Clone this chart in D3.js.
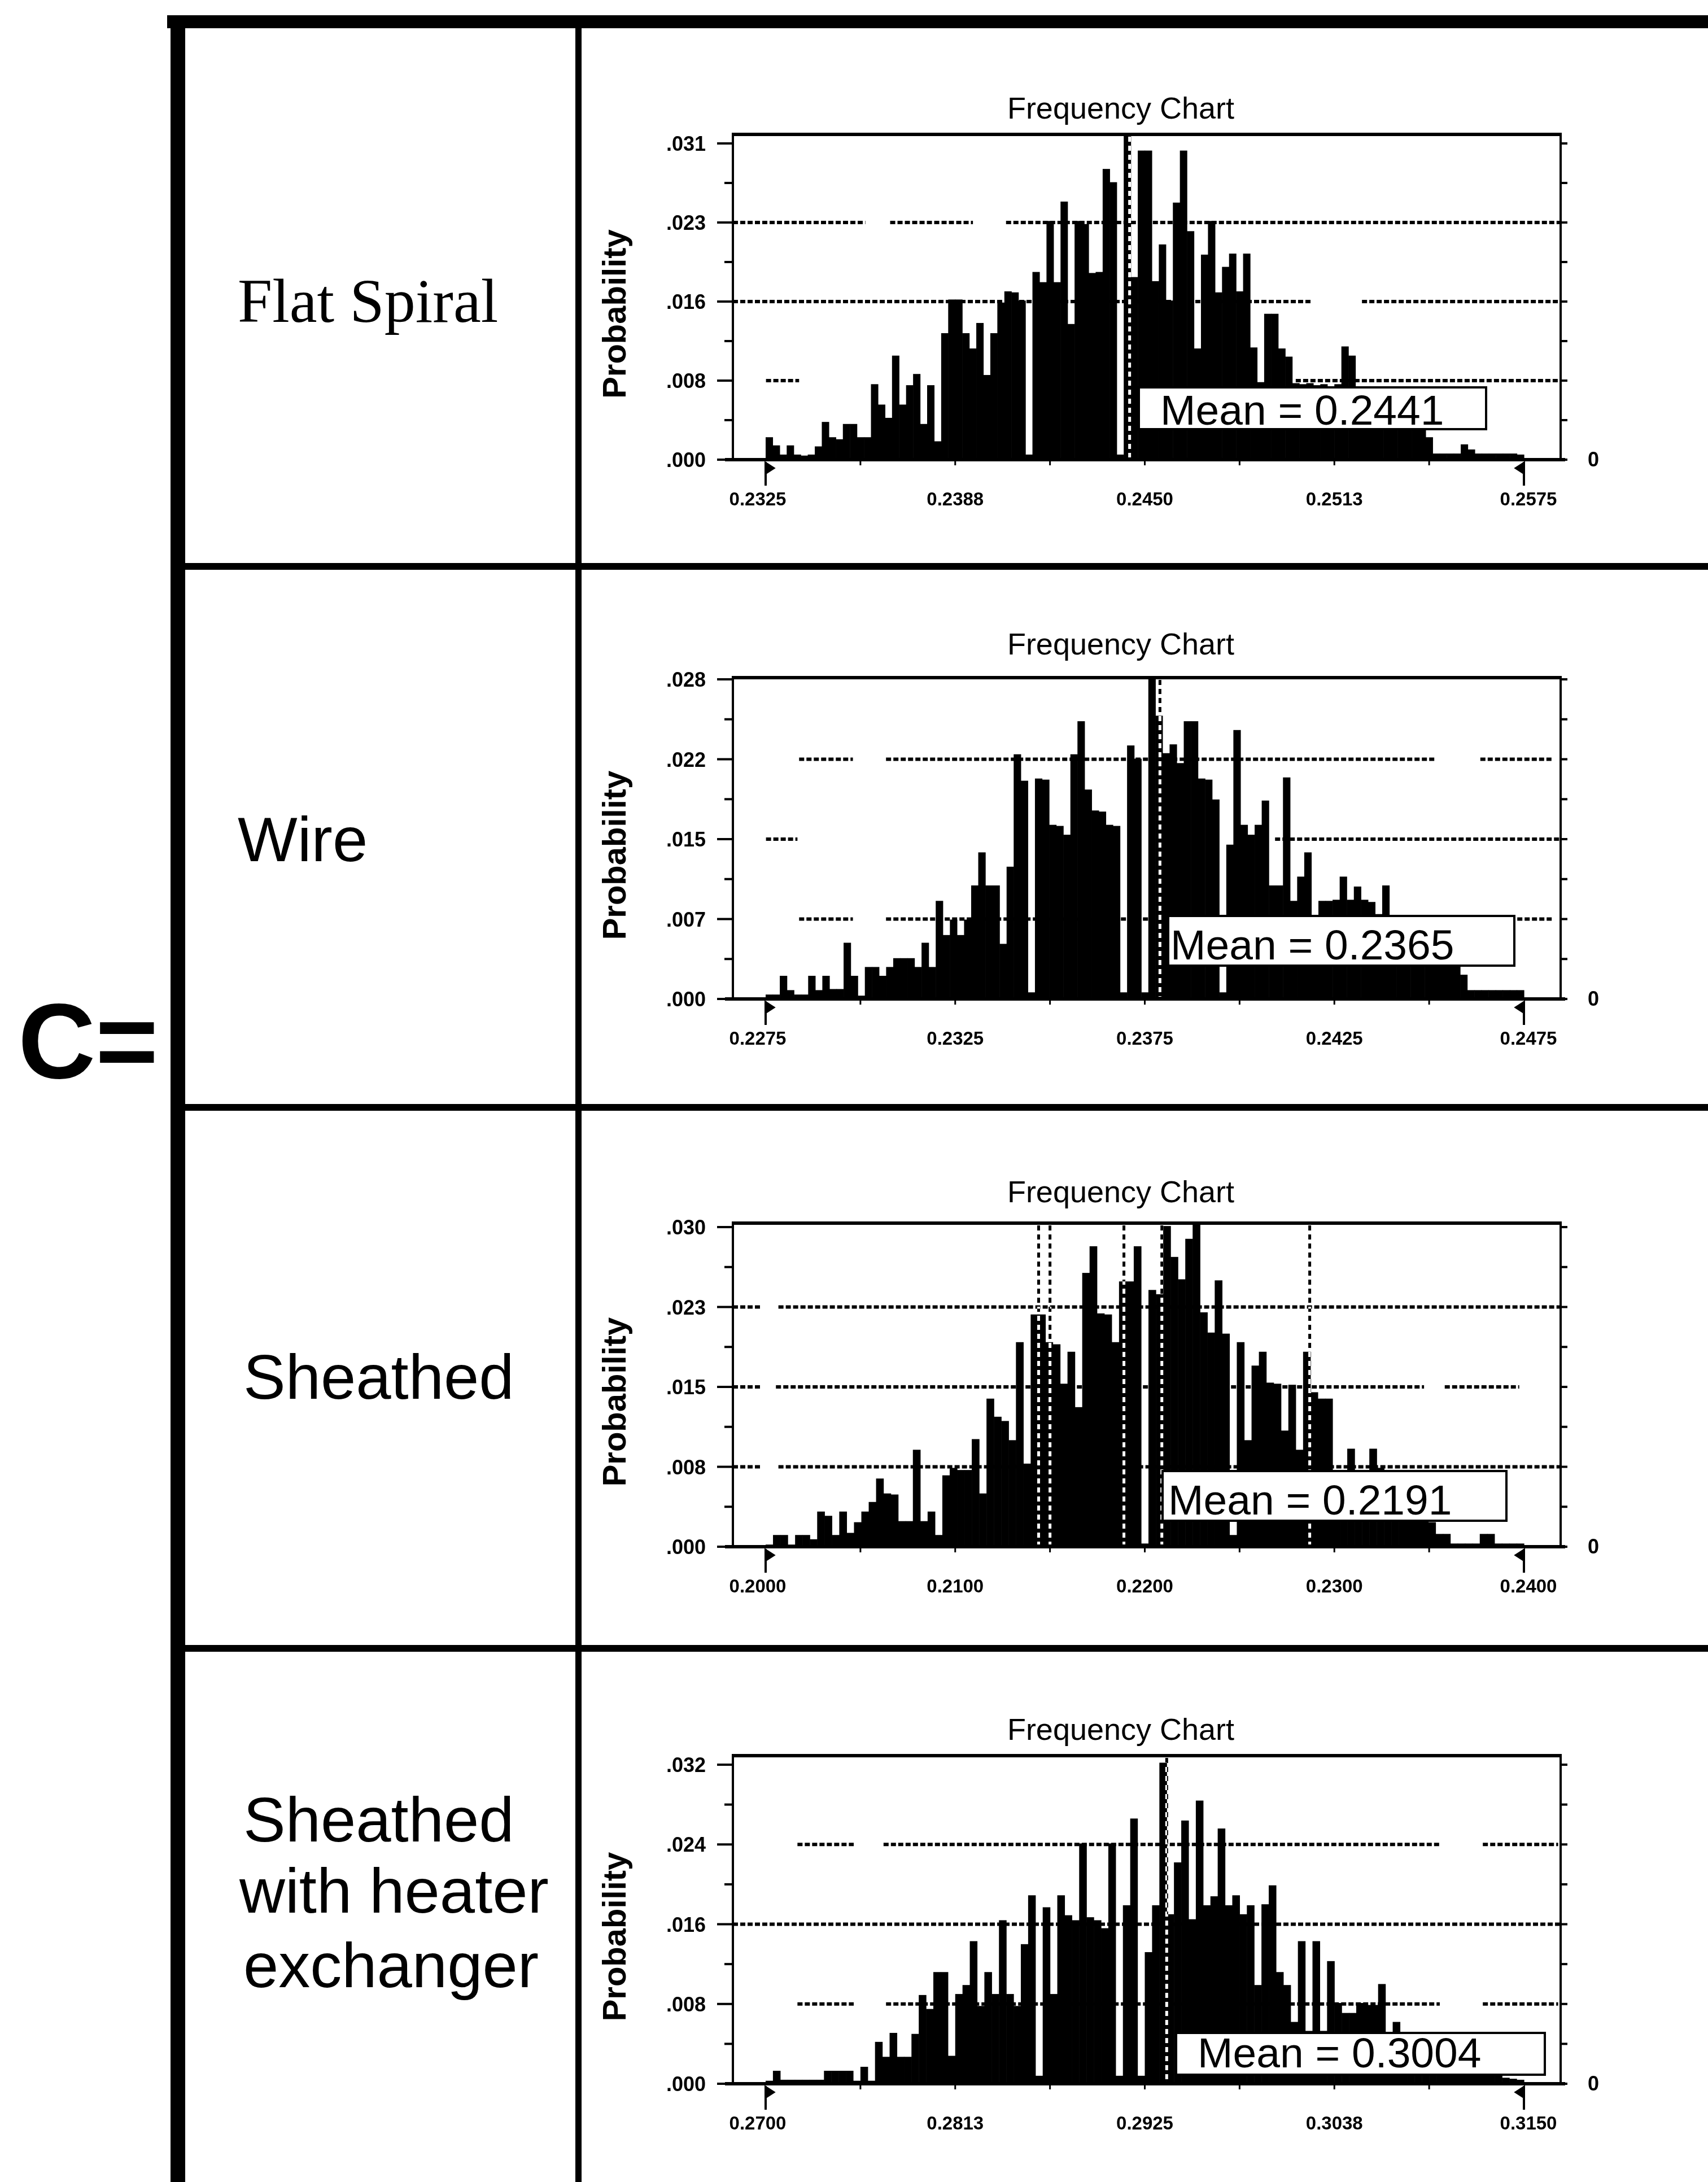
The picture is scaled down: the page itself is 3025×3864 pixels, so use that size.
<!DOCTYPE html>
<html>
<head>
<meta charset="utf-8">
<script src="https://cdn.jsdelivr.net/npm/d3@7"></script>
<style>
body { margin: 0; background: #fff; }
svg { display: block; }
</style>
</head>
<body>
<svg></svg>
<script>
// row labels and chart annotations
var rowNames = [["Flat Spiral"], ["Wire"], ["Sheathed"], ["Sheathed", "with heater", "exchanger"]];
var meanLabels = ["Mean = 0.2441", "Mean = 0.2365", "Mean = 0.2191", "Mean = 0.3004"];

// x range of each histogram and the value at the top y tick
var xMin = [0.2325, 0.2275, 0.2000, 0.2700];
var xMax = [0.2575, 0.2475, 0.2400, 0.3150];
var yTop = [0.031, 0.029, 0.030, 0.032];

var xTickLabels = [
    ["0.2325", "0.2388", "0.2450", "0.2513", "0.2575"],
    ["0.2275", "0.2325", "0.2375", "0.2425", "0.2475"],
    ["0.2000", "0.2100", "0.2200", "0.2300", "0.2400"],
    ["0.2700", "0.2813", "0.2925", "0.3038", "0.3150"]
];
var yTickLabels = [
    [".000", ".008", ".016", ".023", ".031"],
    [".000", ".007", ".015", ".022", ".028"],
    [".000", ".008", ".015", ".023", ".030"],
    [".000", ".008", ".016", ".024", ".032"]
];

// dotted vertical marker lines (drawn inverted over the bars)
var markerValues = [
    [0.2445],
    [0.2379],
    [0.2144, 0.2150, 0.2189, 0.2209, 0.2287],
    [0.2938]
];

// probability per cell
var flatSpiral = [
    .0022, .0014, .0005, .0014, .0005, .0004, .0005, .0013, .0037, .0022,
    .0020, .0035, .0035, .0022, .0022, .0074, .0054, .0041, .0102, .0054,
    .0073, .0084, .0035, .0073, .0018, .0124, .0157, .0157, .0124, .0109,
    .0134, .0083, .0124, .0154, .0165, .0164, .0156, .0005, .0184, .0174,
    .0234, .0174, .0253, .0133, .0234, .0231, .0183, .0184, .0285, .0272,
    .0005, .0318, .0179, .0303, .0303, .0175, .0211, .0156, .0252, .0303,
    .0224, .0109, .0201, .0234, .0164, .0189, .0202, .0165, .0202, .0110,
    .0076, .0143, .0143, .0109, .0101,
    .0075, .0074, .0075, .0073, .0074, .0072, .0074, .0111, .0102,
    .0068, .0064, .0060, .0058, .0055, .0052, .0050, .0046, .0042, .0036, .0022,
    .0006, .0006, .0006, .0006, .0015, .0010, .0006, .0006, .0006, .0006, .0006, .0006, .0005
];
var wire = [
    .0004, .0004, .0021, .0008, .0004, .0004, .0021, .0008, .0021, .0009,
    .0009, .0051, .0021, .0003, .0029, .0029, .0021, .0029, .0037, .0037,
    .0037, .0029, .0051, .0029, .0089, .0058, .0072, .0058, .0072, .0103,
    .0133, .0103, .0103, .0050, .0120, .0222, .0198, .0006, .0200, .0199,
    .0158, .0157, .0149, .0222, .0252, .0190, .0171, .0170, .0158, .0157,
    .0006, .0230, .0218, .0006, .0291, .0257, .0223, .0231, .0214, .0252,
    .0252, .0200, .0199, .0181, .0006, .0140, .0244, .0158, .0149, .0158,
    .0180, .0103, .0103, .0201, .0089, .0111, .0133, .0075, .0089, .0089,
    .0090, .0111, .0090, .0102, .0090, .0088, .0077, .0103, .0076, .0076,
    .0070, .0068, .0066, .0064, .0060, .0055, .0050, .0045, .0022,
    .0008, .0008, .0008, .0008, .0008, .0008, .0008, .0008
];
var sheathed = [
    .0002, .0011, .0011, .0002, .0011, .0011, .0007, .0033, .0029, .0011,
    .0033, .0013, .0023, .0033, .0042, .0064, .0050, .0049, .0024, .0024,
    .0091, .0024, .0033, .0011, .0067, .0074, .0072, .0072, .0101, .0050,
    .0139, .0122, .0118, .0100, .0192, .0078, .0218, .0218, .0192, .0190,
    .0153, .0183, .0131, .0257, .0282, .0219, .0218, .0192, .0249, .0249,
    .0282, .0003, .0241, .0237, .0301, .0272, .0251, .0289, .0304, .0220,
    .0201, .0250, .0200, .0011, .0192, .0100, .0170, .0183, .0154, .0153,
    .0109, .0152, .0091, .0183, .0145, .0139, .0139, .0072, .0072, .0092,
    .0072, .0072, .0092, .0074, .0070, .0065, .0060, .0055, .0050, .0045,
    .0023, .0012, .0012, .0003, .0003, .0003, .0003, .0012, .0012, .0003,
    .0003, .0003, .0003
];
var sheathedHx = [
    .0003, .0013, .0004, .0004, .0004, .0004, .0004, .0004, .0013, .0013,
    .0013, .0013, .0003, .0017, .0003, .0042, .0027, .0051, .0027, .0027,
    .0050, .0089, .0075, .0112, .0112, .0028, .0090, .0099, .0143, .0078,
    .0112, .0090, .0164, .0090, .0078, .0140, .0189, .0008, .0177, .0090,
    .0189, .0169, .0164, .0241, .0167, .0164, .0156, .0241, .0008, .0179,
    .0266, .0008, .0132, .0179, .0322, .0170, .0222, .0264, .0165, .0284,
    .0179, .0188, .0256, .0179, .0189, .0170, .0179, .0099, .0180, .0199,
    .0112, .0099, .0062, .0143, .0053, .0143, .0053, .0123, .0081, .0071,
    .0071, .0081, .0079, .0079, .0100, .0050, .0062,
    .0045, .0042, .0040, .0036, .0032, .0030, .0026, .0022, .0020, .0016,
    .0014, .0012, .0010, .0008, .0006, .0005, .0004
];
var series = [flatSpiral, wire, sheathed, sheathedHx];

// ---- layout ----
var W = 3025, H = 3864;
var sans = "'Liberation Sans', Arial, Helvetica, sans-serif";
var frameLeft = 1298, frameRight = 2764;
var histLeft = 1356, histRight = 2699;
var baseY = [814, 1769, 2739, 3690];
var topTickY = [254, 1203, 2173, 3125];
var frameTopY = [238, 1200, 2166, 3109];
var boxes = [
    { x: 2017, y: 686, w: 615, h: 74, tx: 2055, ty: 752 },
    { x: 2069, y: 1622, w: 613, h: 88, tx: 2073, ty: 1699 },
    { x: 2059, y: 2605, w: 609, h: 88, tx: 2069, ty: 2682 },
    { x: 2083, y: 3600, w: 653, h: 74, tx: 2121, ty: 3661 }
];
// visible pieces of the dotted grid lines (fraction of frame width), 1/4, 1/2, 3/4
var gridSegs = [
    [[[0.04, 0.08], [0.68, 1]], [[0, 0.70], [0.76, 1]], [[0, 0.16], [0.19, 0.29], [0.33, 1]]],
    [[[0.08, 0.145], [0.185, 0.99]], [[0.04, 0.078], [0.655, 1]], [[0.08, 0.145], [0.185, 0.848], [0.903, 0.99]]],
    [[[0, 0.035], [0.055, 1]], [[0, 0.035], [0.052, 0.835], [0.86, 0.95]], [[0, 0.035], [0.055, 1]]],
    [[[0.078, 0.146], [0.185, 0.854], [0.906, 0.997]], [[0, 1]], [[0.078, 0.146], [0.182, 0.854], [0.906, 0.997]]]
];

var svg = d3.select("svg")
    .attr("width", W)
    .attr("height", H);

svg.append("rect")
    .attr("width", W)
    .attr("height", H)
    .attr("fill", "#fff");

// ---- table lines ----
var table = svg.append("g").attr("fill", "#000");
table.append("rect").attr("x", 296).attr("y", 27).attr("width", W - 296).attr("height", 23);
table.append("rect").attr("x", 302).attr("y", 27).attr("width", 26).attr("height", H - 27);
table.append("rect").attr("x", 1019).attr("y", 50).attr("width", 11).attr("height", H - 50);
[1003, 1961, 2919].forEach(function (yy) {
    table.append("rect").attr("x", 328).attr("y", yy - 6).attr("width", W - 328).attr("height", 12);
});

svg.append("text")
    .attr("x", 32)
    .attr("y", 1909)
    .attr("font-family", sans)
    .attr("font-weight", "bold")
    .attr("font-size", 190)
    .text("C=");

// row names
var rowBase = [[570], [1525], [2477], [3261, 3387, 3519]];
var rowX = [[421], [421], [431], [431, 424, 431]];
rowNames.forEach(function (lines, k) {
    lines.forEach(function (line, j) {
        svg.append("text")
            .attr("x", rowX[k][j])
            .attr("y", rowBase[k][j])
            .attr("font-family", k == 0 ? "'Liberation Serif', 'Times New Roman', serif" : sans)
            .attr("font-size", k == 0 ? 110 : 112)
            .text(line);
    });
});

// ---- frequency charts ----
function drawChart(k) {
    var data = series[k];
    var base = baseY[k];
    var g = svg.append("g");

    var x = d3.scaleLinear().domain([xMin[k], xMax[k]]).range([histLeft, histRight]);
    var y = d3.scaleLinear().domain([0, yTop[k]]).range([base, topTickY[k]]);
    var frameW = frameRight - frameLeft;

    // dotted grid lines
    [1, 2, 3].forEach(function (q, j) {
        var gy = y(yTop[k] * q / 4);
        g.selectAll(null)
            .data(gridSegs[k][j])
            .enter()
            .append("line")
            .attr("x1", function (s) { return frameLeft + s[0] * frameW; })
            .attr("x2", function (s) { return frameLeft + s[1] * frameW; })
            .attr("y1", gy)
            .attr("y2", gy)
            .attr("stroke", "#000")
            .attr("stroke-width", 6)
            .attr("stroke-dasharray", "9,4");
    });

    // bars
    var step = (xMax[k] - xMin[k]) / data.length;
    g.selectAll("rect.bar")
        .data(data)
        .enter()
        .append("rect")
        .attr("class", "bar")
        .attr("x", function (d, i) { return x(xMin[k] + i * step); })
        .attr("width", function (d, i) { return x(xMin[k] + (i + 1) * step) - x(xMin[k] + i * step) + 0.6; })
        .attr("y", function (d) { return y(d); })
        .attr("height", function (d) { return base - y(d); })
        .attr("fill", "#000");

    // inverted dotted marker lines
    g.selectAll("line.marker")
        .data(markerValues[k])
        .enter()
        .append("line")
        .attr("class", "marker")
        .attr("x1", function (d) { return x(d); })
        .attr("x2", function (d) { return x(d); })
        .attr("y1", frameTopY[k] + 4)
        .attr("y2", base - 4)
        .attr("stroke", "#fff")
        .attr("stroke-width", 5)
        .attr("stroke-dasharray", "9,7")
        .style("mix-blend-mode", "difference");

    // frame
    g.append("line").attr("x1", frameLeft - 2).attr("x2", frameRight + 2)
        .attr("y1", frameTopY[k]).attr("y2", frameTopY[k])
        .attr("stroke", "#000").attr("stroke-width", 6);
    g.append("line").attr("x1", frameLeft - 14).attr("x2", frameRight + 8)
        .attr("y1", base).attr("y2", base)
        .attr("stroke", "#000").attr("stroke-width", 6);
    [frameLeft, frameRight].forEach(function (fx) {
        g.append("line").attr("x1", fx).attr("x2", fx)
            .attr("y1", frameTopY[k]).attr("y2", base)
            .attr("stroke", "#000").attr("stroke-width", 4);
    });

    // y ticks: majors on quarters with labels, minors between
    d3.range(0, 9).forEach(function (i) {
        var ty = y(yTop[k] * i / 8);
        var major = i % 2 == 0;
        g.append("line")
            .attr("x1", major ? frameLeft - 28 : frameLeft - 15).attr("x2", frameLeft)
            .attr("y1", ty).attr("y2", ty)
            .attr("stroke", "#000").attr("stroke-width", 4);
        g.append("line")
            .attr("x1", frameRight).attr("x2", frameRight + 12)
            .attr("y1", ty).attr("y2", ty)
            .attr("stroke", "#000").attr("stroke-width", 4);
        if (major) {
            g.append("text")
                .attr("x", 1250)
                .attr("y", ty + 13)
                .attr("text-anchor", "end")
                .attr("font-family", sans)
                .attr("font-weight", "bold")
                .attr("font-size", 36)
                .text(yTickLabels[k][i / 2]);
        }
    });

    // x ticks
    d3.range(1, 8).forEach(function (i) {
        var tx = x(xMin[k] + (xMax[k] - xMin[k]) * i / 8);
        g.append("line").attr("x1", tx).attr("x2", tx)
            .attr("y1", base).attr("y2", base + 10)
            .attr("stroke", "#000").attr("stroke-width", 3);
    });
    xTickLabels[k].forEach(function (lab, i) {
        g.append("text")
            .attr("x", x(xMin[k] + (xMax[k] - xMin[k]) * i / 4) + (i == 0 ? -14 : i == 4 ? 8 : 0))
            .attr("y", base + 81)
            .attr("text-anchor", "middle")
            .attr("font-family", sans)
            .attr("font-weight", "bold")
            .attr("font-size", 33)
            .text(lab);
    });

    // certainty grabbers at both ends
    var gl = x(xMin[k]), gr = x(xMax[k]);
    g.append("path")
        .attr("d", "M" + gl + "," + (base + 4) + "V" + (base + 46) + "M" + gl + "," + (base + 6) + "l14,9l-14,9z")
        .attr("stroke", "#000").attr("stroke-width", 4).attr("fill", "#000");
    g.append("path")
        .attr("d", "M" + gr + "," + (base + 4) + "V" + (base + 46) + "M" + gr + "," + (base + 6) + "l-14,9l14,9z")
        .attr("stroke", "#000").attr("stroke-width", 4).attr("fill", "#000");

    // right axis zero
    g.append("text")
        .attr("x", 2822)
        .attr("y", base + 12)
        .attr("text-anchor", "middle")
        .attr("font-family", sans)
        .attr("font-weight", "bold")
        .attr("font-size", 36)
        .text("0");

    // title and axis name
    g.append("text")
        .attr("x", 1985)
        .attr("y", topTickY[k] - 44)
        .attr("text-anchor", "middle")
        .attr("font-family", sans)
        .attr("font-size", 54)
        .text("Frequency Chart");

    var cy = (frameTopY[k] + base) / 2 + 30;
    g.append("text")
        .attr("transform", "translate(1087," + cy + ") rotate(-90)")
        .attr("text-anchor", "middle")
        .attr("dominant-baseline", "central")
        .attr("font-family", sans)
        .attr("font-weight", "bold")
        .attr("font-size", 58)
        .text("Probability");

    // mean box
    var b = boxes[k];
    g.append("rect")
        .attr("x", b.x).attr("y", b.y)
        .attr("width", b.w).attr("height", b.h)
        .attr("fill", "#fff")
        .attr("stroke", "#000")
        .attr("stroke-width", 4);
    g.append("text")
        .attr("x", b.tx)
        .attr("y", b.ty)
        .attr("font-family", sans)
        .attr("font-size", 75)
        .text(meanLabels[k]);
}

for (var k = 0; k < 4; k++) drawChart(k);
</script>
</body>
</html>
